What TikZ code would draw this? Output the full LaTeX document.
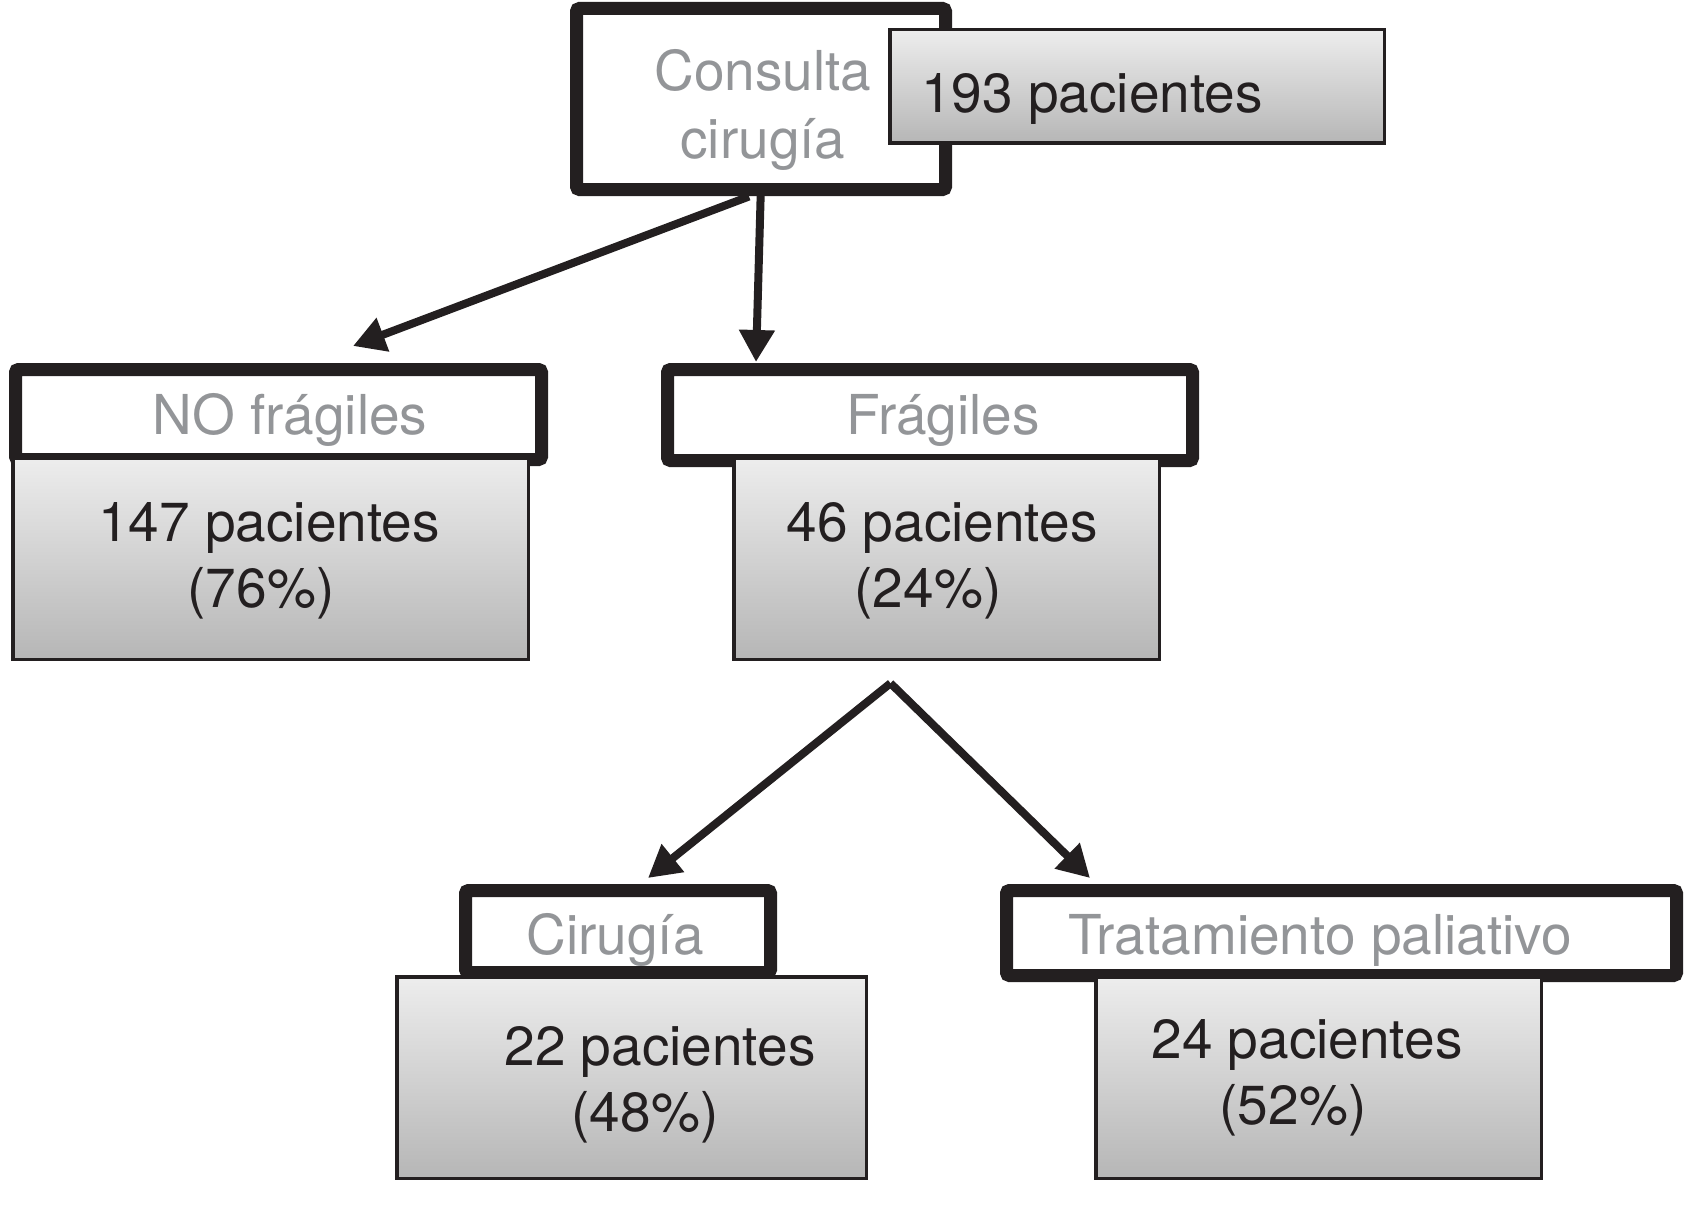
\documentclass[tikz,border=0pt]{standalone}
\usepackage{fontspec}
\setmainfont{TeX Gyre Heros}
\usetikzlibrary{arrows.meta,calc}
\definecolor{lbl}{HTML}{939598}
\definecolor{ink}{HTML}{231F20}
\definecolor{gtop}{HTML}{EDEDED}
\definecolor{gbot}{HTML}{B6B6B6}
\begin{document}
\begin{tikzpicture}[x=1pt,y=-1pt,
  headbox/.style={draw=ink, line width=13pt, fill=white, rounded corners=3pt,
    inner sep=0pt, outer sep=0pt},
  countbox/.style={draw=ink, line width=3.5pt, top color=gtop, bottom color=gbot,
    inner sep=0pt, outer sep=0pt},
  graytxt/.style={text=lbl, inner sep=0pt, anchor=base, align=center,
    font=\fontsize{55}{68}\selectfont},
  inktxt/.style={text=ink, inner sep=0pt, anchor=base, align=center,
    font=\fontsize{55}{66}\selectfont},
  flow/.style={draw=ink, line width=8pt,
    -{Triangle[length=32pt,width=34pt]}}]
\useasboundingbox (0,0) rectangle (1686,1228);
% header boxes (thick frames)
\node[headbox, minimum width=369pt, minimum height=181pt] (consulta) at (761,99) {};
\node[headbox, minimum width=526pt, minimum height=90pt] (nofrag) at (278.5,414.5) {};
\node[headbox, minimum width=525pt, minimum height=91pt] (frag) at (930,415) {};
\node[headbox, minimum width=305pt, minimum height=82pt] (cir) at (618,931.5) {};
\node[headbox, minimum width=670pt, minimum height=85pt] (trat) at (1341.5,933) {};
% count boxes (gradient)
\node[countbox, minimum width=494.5pt, minimum height=113.5pt] (n193) at (1137,86.5) {};
\node[countbox, minimum width=515.5pt, minimum height=201.5pt] (n147) at (270.5,558.5) {};
\node[countbox, minimum width=425.5pt, minimum height=201.5pt] (n46) at (946.5,558.5) {};
\node[countbox, minimum width=469.5pt, minimum height=201.5pt] (n22) at (631.5,1077.5) {};
\node[countbox, minimum width=445.5pt, minimum height=201.5pt] (n24) at (1318.5,1077.5) {};
% texts (base anchor = baseline of the last line)
\node[graytxt] (tconsulta) at (763,158) {Consulta\\cirugía};
\node[graytxt] (tnofrag) at (290,434) {NO frágiles};
\node[graytxt] (tfrag) at (943,434) {Frágiles};
\node[graytxt] (tcir) at (615,954) {Cirugía};
\node[graytxt] (ttrat) at (1320,954) {Tratamiento paliativo};
\node[inktxt, anchor=base west] (t193) at (921,113) {193 pacientes};
\node[inktxt] (t147) at (269,607) {147 pacientes\\(76\%)\hspace*{16pt}};
\node[inktxt] (t46) at (942,607) {46 pacientes\\(24\%)\hspace*{28pt}};
\node[inktxt] (t22) at (660,1131) {22 pacientes\\(48\%)\hspace*{30pt}};
\node[inktxt] (t24) at (1307,1124) {24 pacientes\\(52\%)\hspace*{28pt}};
% connectors
\coordinate (split) at ($(n46.south)+(-56,24)$);
\draw[flow] ($(consulta.south)+(-12,7)$) -- ($(nofrag.north)+(74.5,-23.5)$);
\draw[flow] ($(consulta.south)+(0,-6)$) -- ($(frag.north)+(-174,-7.5)$);
\draw[flow] (split) -- ($(cir.north)+(30,-12.5)$);
\draw[flow] (split) -- ($(trat.north)+(-251.5,-12.5)$);
\end{tikzpicture}
\end{document}
